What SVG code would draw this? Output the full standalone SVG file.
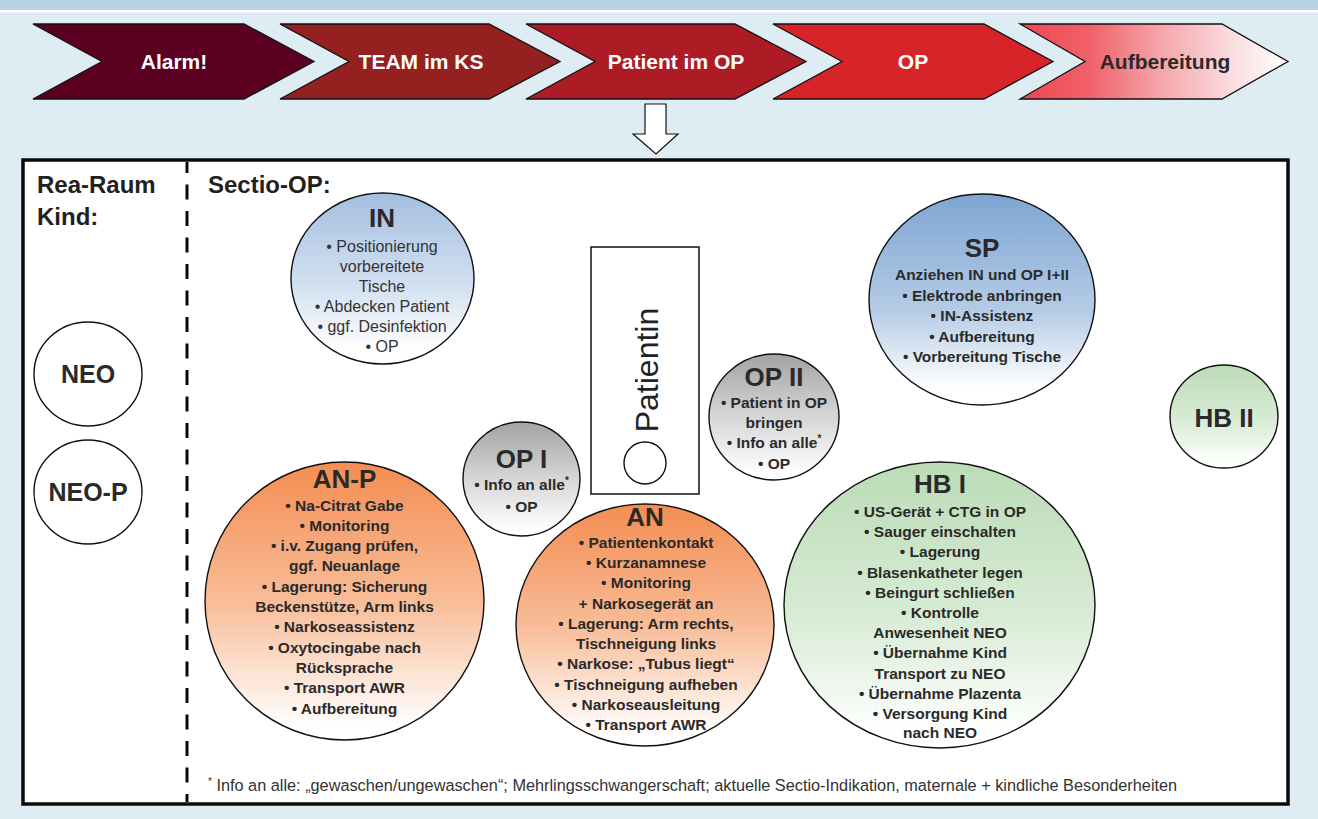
<svg xmlns="http://www.w3.org/2000/svg" width="1318" height="819" viewBox="0 0 1318 819">
  <defs>
    <linearGradient id="gBlueLight" x1="0" y1="0" x2="0" y2="1">
      <stop offset="0" stop-color="#a3bfe0"/>
      <stop offset="0.55" stop-color="#d3e1f1"/>
      <stop offset="0.92" stop-color="#ffffff"/>
    </linearGradient>
    <linearGradient id="gBlue" x1="0" y1="0" x2="0" y2="1">
      <stop offset="0" stop-color="#7ea5d3"/>
      <stop offset="0.55" stop-color="#b4cbe6"/>
      <stop offset="0.92" stop-color="#ffffff"/>
    </linearGradient>
    <linearGradient id="gGrey" x1="0" y1="0" x2="0" y2="1">
      <stop offset="0" stop-color="#a3a3a3"/>
      <stop offset="0.5" stop-color="#d6d6d6"/>
      <stop offset="0.95" stop-color="#ffffff"/>
    </linearGradient>
    <linearGradient id="gOrange" x1="0" y1="0" x2="0" y2="1">
      <stop offset="0" stop-color="#f48d52"/>
      <stop offset="0.5" stop-color="#f8bc97"/>
      <stop offset="0.95" stop-color="#ffffff"/>
    </linearGradient>
    <linearGradient id="gGreen" x1="0" y1="0" x2="0" y2="1">
      <stop offset="0" stop-color="#bbdbb6"/>
      <stop offset="0.55" stop-color="#d9ecd6"/>
      <stop offset="0.95" stop-color="#ffffff"/>
    </linearGradient>
    <linearGradient id="gFade" x1="0" y1="0" x2="1" y2="0">
      <stop offset="0" stop-color="#ee4752"/>
      <stop offset="0.25" stop-color="#f06068"/>
      <stop offset="0.55" stop-color="#f5abb0"/>
      <stop offset="0.82" stop-color="#fbe2e5"/>
      <stop offset="1" stop-color="#ffffff"/>
    </linearGradient>
  </defs>
  <style>
    .chev { stroke: #111; stroke-width: 1.3; }
    .chevTxt { font-family: "Liberation Sans", Arial, sans-serif; font-weight: bold; font-size: 21px; text-anchor: middle; fill: #ffffff; }
    .node { stroke: #111; stroke-width: 1.4; }
    .title { font-family: "Liberation Sans", Arial, sans-serif; font-weight: bold; font-size: 26px; text-anchor: middle; fill: #2a2a2a; }
    .bold { font-family: "Liberation Sans", Arial, sans-serif; font-weight: bold; font-size: 15.5px; text-anchor: middle; fill: #2a2a2a; }
    .reg { font-family: "Liberation Sans", Arial, sans-serif; font-size: 16px; text-anchor: middle; fill: #333333; }
    .head { font-family: "Liberation Sans", Arial, sans-serif; font-weight: bold; font-size: 24px; fill: #231f20; }
    .foot { font-family: "Liberation Sans", Arial, sans-serif; font-size: 16.3px; fill: #333333; }
  </style>

  <!-- page background -->
  <rect x="0" y="0" width="1318" height="819" fill="#deedf4"/>
  <rect x="0" y="0" width="1318" height="10" fill="#b6d4e4"/>
  <rect x="0" y="10" width="1318" height="2.5" fill="#ffffff"/>

  <!-- process chevrons -->
  <g id="step-alarm">
    <path class="chev" fill="#5c0021" d="M33,24 L244,24 L314,61.5 L244,99 L33,99 L102,61.5 Z"/>
    <text class="chevTxt" x="174" y="69">Alarm!</text>
  </g>
  <g id="step-team">
    <path class="chev" fill="#94201f" d="M280,24 L489,24 L560,61.5 L489,99 L280,99 L349,61.5 Z"/>
    <text class="chevTxt" x="421" y="69">TEAM im KS</text>
  </g>
  <g id="step-patient">
    <path class="chev" fill="#ad1c24" d="M526,24 L735,24 L806,61.5 L735,99 L526,99 L595,61.5 Z"/>
    <text class="chevTxt" x="676" y="69">Patient im OP</text>
  </g>
  <g id="step-op">
    <path class="chev" fill="#d62428" d="M773,24 L984,24 L1053,61.5 L984,99 L773,99 L842,61.5 Z"/>
    <text class="chevTxt" x="913" y="69">OP</text>
  </g>
  <g id="step-aufbereitung">
    <path class="chev" fill="url(#gFade)" d="M1020,24 L1222,24 L1288,61.5 L1222,99 L1020,99 L1085,61.5 Z"/>
    <text class="chevTxt" x="1165" y="69" style="fill:#2a2a2a">Aufbereitung</text>
  </g>

  <!-- down arrow into the room plan -->
  <g id="arrow-down">
    <path d="M645,104 L666,104 L666,134 L678,134 L656,154 L633,134 L645,134 Z" fill="#ffffff" stroke="#111" stroke-width="1.2"/>
  </g>

  <!-- room frame -->
  <g id="frame">
    <rect x="23" y="160" width="1265" height="644" fill="#ffffff" stroke="#0a0a0a" stroke-width="3.5"/>
    <line x1="187" y1="162" x2="187" y2="802" stroke="#0a0a0a" stroke-width="3" stroke-dasharray="15 11.5" stroke-dashoffset="4"/>
    <text class="head" x="37" y="193">Rea-Raum</text>
    <text class="head" x="37" y="225">Kind:</text>
    <text class="head" x="208" y="193">Sectio-OP:</text>
  </g>

  <!-- connectors (none in this plan) -->
  <g id="connectors"/>

  <!-- neonatal resuscitation room -->
  <g id="neo">
    <ellipse class="node" cx="88" cy="374" rx="54" ry="52" fill="#ffffff"/>
    <text class="title" x="88" y="383" style="font-size:25px">NEO</text>
  </g>
  <g id="neo-p">
    <ellipse class="node" cx="88" cy="492" rx="54" ry="52" fill="#ffffff"/>
    <text class="title" x="88" y="501" style="font-size:25px">NEO-P</text>
  </g>

  <!-- operating room -->
  <g id="in">
    <ellipse class="node" cx="382.5" cy="278.5" rx="91.5" ry="85.5" fill="url(#gBlueLight)"/>
    <text class="title" x="382" y="227">IN</text>
    <text class="reg" x="382" y="252">• Positionierung</text>
    <text class="reg" x="382" y="272">vorbereitete</text>
    <text class="reg" x="382" y="292">Tische</text>
    <text class="reg" x="382" y="312">• Abdecken Patient</text>
    <text class="reg" x="382" y="332">• ggf. Desinfektion</text>
    <text class="reg" x="382" y="352">• OP</text>
  </g>

  <g id="patientin">
    <rect x="591" y="247" width="108" height="247" fill="#ffffff" stroke="#111" stroke-width="1.5"/>
    <text transform="translate(658,370) rotate(-90)" text-anchor="middle" font-family="Liberation Sans, Arial, sans-serif" font-size="32" fill="#222">Patientin</text>
    <circle cx="645" cy="463" r="21" fill="#ffffff" stroke="#111" stroke-width="1.4"/>
  </g>

  <g id="sp">
    <ellipse class="node" cx="982" cy="299.5" rx="113" ry="105.5" fill="url(#gBlue)"/>
    <text class="title" x="982" y="257">SP</text>
    <text class="bold" x="982" y="280">Anziehen IN und OP I+II</text>
    <text class="bold" x="982" y="301">• Elektrode anbringen</text>
    <text class="bold" x="982" y="321">• IN-Assistenz</text>
    <text class="bold" x="982" y="342">• Aufbereitung</text>
    <text class="bold" x="982" y="362">• Vorbereitung Tische</text>
  </g>

  <g id="op2">
    <ellipse class="node" cx="774" cy="417" rx="65" ry="63" fill="url(#gGrey)"/>
    <text class="title" x="774" y="386">OP II</text>
    <text class="bold" x="774" y="408">• Patient in OP</text>
    <text class="bold" x="774" y="428">bringen</text>
    <text class="bold" x="774" y="448">• Info an alle<tspan dy="-6" font-size="10">*</tspan></text>
    <text class="bold" x="774" y="469">• OP</text>
  </g>

  <g id="hb2">
    <ellipse class="node" cx="1224" cy="416.5" rx="54" ry="51.5" fill="url(#gGreen)"/>
    <text class="title" x="1224" y="427">HB II</text>
  </g>

  <g id="an">
    <ellipse class="node" cx="645" cy="625" rx="129" ry="121" fill="url(#gOrange)"/>
    <text class="title" x="645" y="526">AN</text>
    <text class="bold" x="646" y="548">• Patientenkontakt</text>
    <text class="bold" x="646" y="568">• Kurzanamnese</text>
    <text class="bold" x="646" y="588">• Monitoring</text>
    <text class="bold" x="646" y="609">+ Narkosegerät an</text>
    <text class="bold" x="646" y="629">• Lagerung: Arm rechts,</text>
    <text class="bold" x="646" y="649">Tischneigung links</text>
    <text class="bold" x="646" y="669">• Narkose: „Tubus liegt“</text>
    <text class="bold" x="646" y="690">• Tischneigung aufheben</text>
    <text class="bold" x="646" y="710">• Narkoseausleitung</text>
    <text class="bold" x="646" y="730">• Transport AWR</text>
  </g>

  <g id="op1">
    <ellipse class="node" cx="521.5" cy="479" rx="58.5" ry="57" fill="url(#gGrey)"/>
    <text class="title" x="521.5" y="468">OP I</text>
    <text class="bold" x="521.5" y="490">• Info an alle<tspan dy="-6" font-size="10">*</tspan></text>
    <text class="bold" x="521.5" y="512">• OP</text>
  </g>

  <g id="an-p">
    <ellipse class="node" cx="344.5" cy="601" rx="139.5" ry="139" fill="url(#gOrange)"/>
    <text class="title" x="344.5" y="488">AN-P</text>
    <text class="bold" x="344.5" y="511">• Na-Citrat Gabe</text>
    <text class="bold" x="344.5" y="531">• Monitoring</text>
    <text class="bold" x="344.5" y="551">• i.v. Zugang prüfen,</text>
    <text class="bold" x="344.5" y="571">ggf. Neuanlage</text>
    <text class="bold" x="344.5" y="592">• Lagerung: Sicherung</text>
    <text class="bold" x="344.5" y="612">Beckenstütze, Arm links</text>
    <text class="bold" x="344.5" y="632">• Narkoseassistenz</text>
    <text class="bold" x="344.5" y="653">• Oxytocingabe nach</text>
    <text class="bold" x="344.5" y="673">Rücksprache</text>
    <text class="bold" x="344.5" y="693">• Transport AWR</text>
    <text class="bold" x="344.5" y="714">• Aufbereitung</text>
  </g>

  <g id="hb1">
    <ellipse class="node" cx="939.5" cy="605" rx="155.5" ry="143" fill="url(#gGreen)"/>
    <text class="title" x="940" y="493">HB I</text>
    <text class="bold" x="940" y="517">• US-Gerät + CTG in OP</text>
    <text class="bold" x="940" y="537">• Sauger einschalten</text>
    <text class="bold" x="940" y="557">• Lagerung</text>
    <text class="bold" x="940" y="578">• Blasenkatheter legen</text>
    <text class="bold" x="940" y="598">• Beingurt schließen</text>
    <text class="bold" x="940" y="618">• Kontrolle</text>
    <text class="bold" x="940" y="638">Anwesenheit NEO</text>
    <text class="bold" x="940" y="658">• Übernahme Kind</text>
    <text class="bold" x="940" y="679">Transport zu NEO</text>
    <text class="bold" x="940" y="699">• Übernahme Plazenta</text>
    <text class="bold" x="940" y="719">• Versorgung Kind</text>
    <text class="bold" x="940" y="738">nach NEO</text>
  </g>

  <!-- footnote -->
  <g id="footnote">
    <text class="foot" x="208" y="791"><tspan font-size="10" dy="-6">*</tspan><tspan dy="6"> Info an alle: „gewaschen/ungewaschen“; Mehrlingsschwangerschaft; aktuelle Sectio-Indikation, maternale + kindliche Besonderheiten</tspan></text>
  </g>
</svg>
